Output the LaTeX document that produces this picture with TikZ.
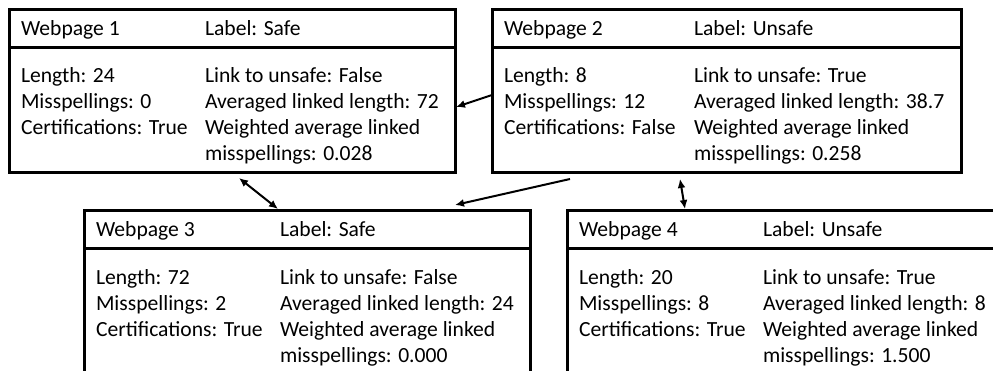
\documentclass[tikz,border=0pt]{standalone}
\usepackage{fontspec}
\setmainfont{Carlito}
\usetikzlibrary{arrows.meta,calc}
\begin{document}
\begin{tikzpicture}[x=1pt,y=-1pt,
  pagebox/.style={draw, line width=3pt, rectangle, anchor=north west,
    inner sep=0pt, outer sep=0pt},
  txt/.style={anchor=base west, inner sep=0pt, outer sep=0pt,
    font=\fontsize{21.6}{26}\selectfont},
  tip/.tip={Latex[length=9pt,width=8pt]},
  link/.style={line width=2pt, -tip},
  bilink/.style={line width=2pt, tip-tip}]
\useasboundingbox (0,0) rectangle (993,371);

% header text, left column and right column of one page box
% #1 box, #2 right column offset, #3 title, #4 label,
% #5 left column lines, #6 right column lines
\newcommand\pagefill[6]{%
  \draw[line width=3pt] ($(#1.north west)+(0,38)$) -- ($(#1.north east)+(0,38)$);
  \node[txt] (#1t) at ($(#1.north west)+(12,26)$) {#3};
  \node[txt] (#1h) at ($(#1.north west)+(#2,26)$) {#4};
  \foreach \s [count=\i] in {#5}
    \node[txt] (#1l\i) at ($(#1.north west)+(12,{73+26*(\i-1)})$) {\s};
  \foreach \s [count=\i] in {#6}
    \node[txt] (#1r\i) at ($(#1.north west)+(#2,{73+26*(\i-1)})$) {\s};
}

\begin{scope}
\clip (0,0) rectangle (993,371);

\node[pagebox, minimum width=446pt, minimum height=163pt] (p1) at (9,10) {};
\node[pagebox, minimum width=469pt, minimum height=163pt] (p2) at (492,10) {};
\node[pagebox, minimum width=446pt, minimum height=200pt] (p3) at (84,211) {};
\node[pagebox, minimum width=446pt, minimum height=200pt] (p4) at (567,211) {};

\pagefill{p1}{196}{Webpage 1}{Label: Safe}
  {Length: 24, Misspellings: 0, Certifications: True}
  {Link to unsafe: False, Averaged linked length: 72,
   Weighted average linked, misspellings: 0.028}
\pagefill{p2}{202}{Webpage 2}{Label: Unsafe}
  {Length: 8, Misspellings: 12, Certifications: False}
  {Link to unsafe: True, Averaged linked length: 38.7,
   Weighted average linked, misspellings: 0.258}
\pagefill{p3}{196}{Webpage 3}{Label: Safe}
  {Length: 72, Misspellings: 2, Certifications: True}
  {Link to unsafe: False, Averaged linked length: 24,
   Weighted average linked, misspellings: 0.000}
\pagefill{p4}{196}{Webpage 4}{Label: Unsafe}
  {Length: 20, Misspellings: 8, Certifications: True}
  {Link to unsafe: True, Averaged linked length: 8,
   Weighted average linked, misspellings: 1.500}
\end{scope}

% link end points on the box borders
\coordinate (e21a) at ($(p2.north west)+(0,85)$);
\coordinate (e21b) at ($(p1.north east)+(1,97)$);
\coordinate (e13a) at ($(p1.south west)+(230,5)$);
\coordinate (e13b) at ($(p3.north west)+(194,-2)$);
\coordinate (e23a) at ($(p2.south west)+(78,6)$);
\coordinate (e23b) at ($(p3.north west)+(371,-6)$);
\coordinate (e24a) at ($(p2.south west)+(188,6)$);
\coordinate (e24b) at ($(p4.north west)+(118,-2)$);

\draw[link] (e21a) -- (e21b);
\draw[bilink] (e13a) -- (e13b);
\draw[link] (e23a) -- (e23b);
\draw[bilink] (e24a) -- (e24b);
\end{tikzpicture}
\end{document}
